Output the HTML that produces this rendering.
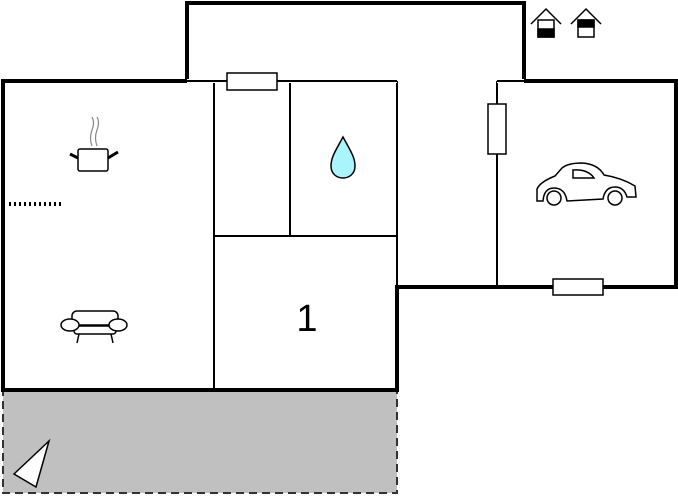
<!DOCTYPE html>
<html><head><style>body{margin:0;background:#fff}svg{display:block}</style></head><body>
<svg width="678" height="500" viewBox="0 0 678 500" xmlns="http://www.w3.org/2000/svg">
<rect x="3" y="390" width="394" height="103" fill="#c0c0c0" stroke="#333" stroke-width="2" stroke-dasharray="8,5"/>
<g stroke="#000" stroke-width="2" fill="none">
<line x1="187" y1="81" x2="397" y2="81"/>
<line x1="214" y1="81" x2="214" y2="390"/>
<line x1="290" y1="81" x2="290" y2="236"/>
<line x1="214" y1="236" x2="397" y2="236"/>
<line x1="397" y1="81" x2="397" y2="287"/>
<line x1="497" y1="81" x2="497" y2="287"/>
<line x1="497" y1="81" x2="524" y2="81"/>
</g>
<path d="M187 81 L187 3 L524 3 L524 81 L676 81 L676 287 L397 287 L397 390 L3 390 L3 81 Z" fill="none" stroke="#000" stroke-width="4" stroke-linejoin="miter"/>
<line x1="187" y1="81" x2="397" y2="81" stroke="#fff" stroke-width="4"/>
<line x1="187" y1="81" x2="397" y2="81" stroke="#000" stroke-width="2"/>
<line x1="497" y1="81" x2="524" y2="81" stroke="#fff" stroke-width="4"/>
<line x1="497" y1="81" x2="524" y2="81" stroke="#000" stroke-width="2"/>
<g fill="#fff" stroke="#000" stroke-width="1.5">
<rect x="227" y="73" width="50" height="17"/>
<rect x="488" y="104" width="18" height="50"/>
<rect x="553" y="279" width="50" height="16"/>
</g>
<path d="M343 137 C336 150 331 157 331 166 C331 174 337 178 343 178 C349 178 355 174 355 166 C355 157 350 150 343 137 Z" fill="#aaf4fc" stroke="#000" stroke-width="1.5"/>
<text x="307" y="331" font-family="Liberation Sans, sans-serif" font-size="38" text-anchor="middle">1</text>
<g stroke="#000" stroke-width="1.5" fill="none">
<path d="M543 201 L537 201 L537 189 Q540 182 555 176 L562 168 Q568 163 582 163 Q598 164 604 175 Q622 178 635 186 L636 197 L627 197 Q624 187 615 187 Q605 187 603 199 L567 201 Q565 188 554 188 Q544 188 543 201 Z"/>
<circle cx="554" cy="198" r="7"/><circle cx="615" cy="198" r="7"/>
<path d="M573 178 L573 170 Q588 169 594 178 Z"/>
<rect x="78" y="149" width="30" height="22" rx="2"/>
<path d="M70 154 L78 158 M108 158 L118 152" stroke-width="3"/>
<path d="M92 146 Q89 138 92 130 Q95 122 92 117 M97 146 Q94 138 97 130 Q100 122 97 117" stroke="#888" stroke-width="1.2"/>
<rect x="72" y="311" width="46" height="14" rx="5"/>
<rect x="74" y="326" width="42" height="8" rx="3"/>
<ellipse cx="70" cy="325" rx="9" ry="6" fill="#fff"/>
<ellipse cx="118" cy="325" rx="9" ry="6" fill="#fff"/>
<path d="M79 334 L77 343 M111 334 L113 343"/>
</g>
<line x1="9" y1="204" x2="61" y2="204" stroke="#000" stroke-width="4" stroke-dasharray="2,3"/>
<polygon points="14,474 49,441 36,487" fill="#fff" stroke="#000" stroke-width="1.5"/>
<g stroke="#000" stroke-width="1.5">
<path d="M531 24 L546 9 L561 24 M571 24 L586 9 L601 24" fill="none"/>
<rect x="538" y="20" width="16" height="17" fill="#fff"/><rect x="538" y="29" width="16" height="8" fill="#000"/>
<rect x="578" y="20" width="16" height="17" fill="#fff"/><rect x="578" y="20" width="16" height="7" fill="#000"/>
</g>
</svg>
</body></html>
